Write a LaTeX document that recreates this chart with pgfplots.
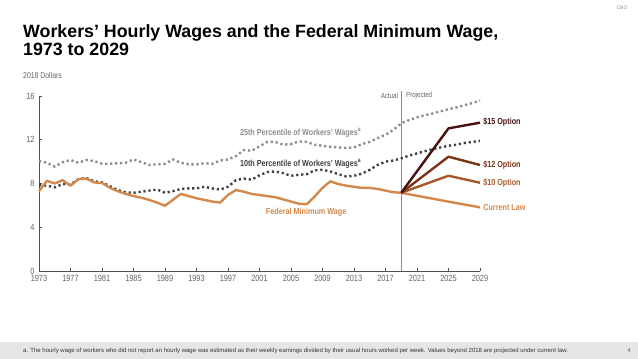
\documentclass[border=0pt]{standalone}
\usepackage{pgfplots}
\pgfplotsset{compat=1.18}
\usepackage{fontspec}
\setmainfont{Liberation Sans}
\newfontfamily\narrowfont[FakeStretch=0.82]{Liberation Sans}
\definecolor{pctA}{RGB}{140,140,140}
\definecolor{pctB}{RGB}{64,64,64}
\definecolor{minw}{RGB}{212,137,76}
\definecolor{optF}{RGB}{74,15,15}
\definecolor{optT}{RGB}{122,53,24}
\definecolor{optTen}{RGB}{166,90,42}
\definecolor{axgray}{RGB}{80,80,80}
\definecolor{txtgray}{RGB}{100,100,100}
\definecolor{footbg}{RGB}{230,230,230}
\begin{document}
\begin{tikzpicture}
\path[use as bounding box] (0pt,0pt) rectangle (638pt,359pt);
\fill[footbg] (0pt,0pt) rectangle (638pt,16.5pt);
\node[anchor=base west,inner sep=0pt,font=\fontsize{6}{6.5}\selectfont,text=black!80] at (23pt,6pt) {a. The hourly wage of workers who did not report an hourly wage was estimated as their weekly earnings divided by their usual hours worked per week. Values beyond 2018 are projected under current law.};
\node[anchor=base,inner sep=0pt,font=\fontsize{6}{6.5}\selectfont,text=txtgray] at (629pt,6pt) {4};
\node[anchor=center,inner sep=0pt,font=\fontsize{5}{5.5}\selectfont,text=black!45] at (622pt,351pt) {CBO};
\node[anchor=base west,inner sep=0pt,font=\bfseries\fontsize{17.8}{19}\selectfont] at (23pt,321pt) {Workers’ Hourly Wages and the Federal Minimum Wage,};
\node[anchor=base west,inner sep=0pt,font=\bfseries\fontsize{17.8}{19}\selectfont] at (23pt,303pt) {1973 to 2029};
\node[anchor=base west,inner sep=0pt,font=\narrowfont\fontsize{8.4}{9}\selectfont,text=txtgray] at (23pt,280.5pt) {2018 Dollars};
\begin{axis}[
  at={(39pt,88pt)}, anchor=south west,
  scale only axis, width=441pt, height=175pt,
  xmin=1973, xmax=2029, ymin=0, ymax=16,
  axis lines*=left,
  axis line style={axgray, line width=0.8pt},
  xtick={1973,1977,...,2029},
  ytick={0,4,8,12,16},
  tick align=inside,
  major tick length=3pt,
  tick style={axgray, line width=0.6pt},
  /pgf/number format/1000 sep={},
  /pgf/number format/assume math mode=true,
  tick label style={font=\narrowfont\fontsize{9}{10}\selectfont, text=txtgray},
  xticklabel style={yshift=-1pt},
  yticklabel style={xshift=-1pt},
  clip=false,
]
\draw[black!45, line width=0.6pt] (axis cs:2019,0) -- (axis cs:2019,16.5);
\node[anchor=east,inner sep=0pt,font=\narrowfont\fontsize{7.5}{8}\selectfont,text=txtgray] at (axis cs:2018.6,16.05) {Actual};
\node[anchor=west,inner sep=0pt,font=\narrowfont\fontsize{7.5}{8}\selectfont,text=txtgray] at (axis cs:2019.6,16.05) {Projected};
% 25th percentile
\addplot[pctA, line width=2.4pt, dash pattern=on 2.2pt off 2.8pt] coordinates {
(1973,10.05) (1974,9.9) (1975,9.55) (1976,9.95) (1977,10.15) (1978,9.9) (1979,10.15) (1980,10.05) (1981,9.8) (1982,9.8) (1983,9.85) (1984,9.9) (1985,10.2) (1986,9.95) (1987,9.7) (1988,9.75) (1989,9.8) (1990,10.2) (1991,9.9) (1992,9.75) (1993,9.75) (1994,9.85) (1995,9.8) (1996,10.1) (1997,10.2) (1998,10.5) (1999,11.05) (2000,11.0) (2001,11.4) (2002,11.8) (2003,11.8) (2004,11.55) (2005,11.6) (2006,11.85) (2007,11.8) (2008,11.55) (2009,11.45) (2010,11.35) (2011,11.3) (2012,11.25) (2013,11.3) (2014,11.6) (2015,11.8) (2016,12.15) (2017,12.45) (2018,12.9) (2019,13.5) (2020,13.8) (2021,14.05) (2022,14.25) (2023,14.4) (2024,14.6) (2025,14.8) (2026,14.95) (2027,15.15) (2028,15.35) (2029,15.58)
};
% 10th percentile
\addplot[pctB, line width=2.4pt, dash pattern=on 2.2pt off 2.8pt] coordinates {
(1973,7.86) (1974,7.8) (1975,7.65) (1976,7.95) (1977,7.9) (1978,8.4) (1979,8.5) (1980,8.2) (1981,8.1) (1982,7.75) (1983,7.4) (1984,7.2) (1985,7.15) (1986,7.25) (1987,7.35) (1988,7.45) (1989,7.15) (1990,7.3) (1991,7.5) (1992,7.55) (1993,7.55) (1994,7.7) (1995,7.55) (1996,7.45) (1997,7.7) (1998,8.3) (1999,8.45) (2000,8.35) (2001,8.75) (2002,9.05) (2003,9.1) (2004,8.95) (2005,8.7) (2006,8.8) (2007,8.85) (2008,9.2) (2009,9.25) (2010,9.1) (2011,8.85) (2012,8.65) (2013,8.7) (2014,8.9) (2015,9.25) (2016,9.7) (2017,10.0) (2018,10.1) (2019,10.3) (2020,10.55) (2021,10.75) (2022,10.95) (2023,11.15) (2024,11.3) (2025,11.45) (2026,11.55) (2027,11.7) (2028,11.8) (2029,11.9)
};
% Federal minimum wage
\addplot[minw, line width=2.4pt, line join=round] coordinates {
(1973,7.3) (1974,8.25) (1975,8.0) (1976,8.3) (1977,7.8) (1978,8.4) (1979,8.45) (1980,8.1) (1981,8.05) (1982,7.6) (1983,7.3) (1984,7.05) (1985,6.85) (1986,6.7) (1987,6.5) (1988,6.25) (1989,5.97) (1990,6.5) (1991,7.05) (1992,6.85) (1993,6.65) (1994,6.5) (1995,6.35) (1996,6.25) (1997,6.95) (1998,7.4) (1999,7.25) (2000,7.05) (2001,6.95) (2002,6.85) (2003,6.75) (2004,6.55) (2005,6.35) (2006,6.15) (2007,6.1) (2008,6.8) (2009,7.6) (2010,8.2) (2011,7.95) (2012,7.8) (2013,7.7) (2014,7.6) (2015,7.6) (2016,7.5) (2017,7.35) (2018,7.2) (2019,7.15)
};
% Current law
\addplot[minw, line width=2.4pt, line join=round] coordinates {(2019,7.15) (2025,6.34) (2029,5.82)};
% $10 option
\addplot[optTen, line width=2.4pt, line join=round] coordinates {(2019,7.15) (2025,8.71) (2029,8.07)};
% $12 option
\addplot[optT, line width=2.4pt, line join=round] coordinates {(2019,7.15) (2025,10.45) (2029,9.69)};
% $15 option
\addplot[optF, line width=2.4pt, line join=round] coordinates {(2019,7.15) (2025,13.04) (2029,13.56)};
\tikzset{lbl/.style={anchor=west,inner sep=0pt,font=\narrowfont\bfseries\fontsize{8.8}{9}\selectfont}}
\node[lbl,text=pctA] at (axis cs:1998.5,12.6) {25th Percentile of Workers’ Wages\textsuperscript{a}};
\node[lbl,text=pctB] at (axis cs:1998.5,9.78) {10th Percentile of Workers’ Wages\textsuperscript{a}};
\node[lbl,text=minw] at (axis cs:2001.8,5.4) {Federal Minimum Wage};
\node[lbl,text=optF] at (axis cs:2029.4,13.6) {\$15 Option};
\node[lbl,text=optT] at (axis cs:2029.4,9.7) {\$12 Option};
\node[lbl,text=optTen] at (axis cs:2029.4,8.05) {\$10 Option};
\node[lbl,text=minw] at (axis cs:2029.4,5.85) {Current Law};
\end{axis}
\end{tikzpicture}
\end{document}
